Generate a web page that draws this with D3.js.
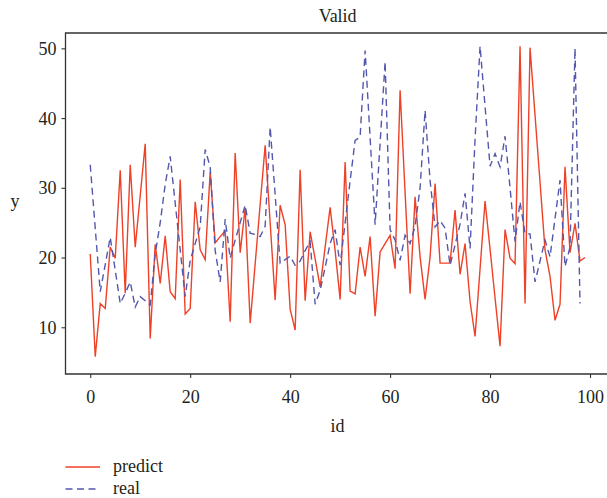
<!DOCTYPE html>
<html lang="en">
<head>
<meta charset="UTF-8">
<title>Valid</title>
<script src="https://d3js.org/d3.v7.min.js"></script>
<style>
    body { margin: 0; background: #fff; }
    text { font-family: "Liberation Serif", "DejaVu Serif", serif; fill: #231f20; }
</style>
</head>
<body>
<div id="chart"></div>
<script>
// values
const predict = [
    20.5, 5.8, 13.4, 12.7, 21.5, 19.9, 32.5, 14.9, 33.3, 21.5,
    28.9, 36.3, 8.4, 21.9, 16.3, 23.1, 15.1, 14.1, 31.2, 11.9,
    12.7, 28.0, 21.1, 19.7, 32.3, 22.1, 23.0, 23.8, 10.8, 35.0,
    20.7, 27.1, 10.6, 19.1, 27.6, 36.1, 25.0, 13.9, 27.5, 24.7,
    12.6, 9.6, 32.6, 13.8, 23.7, 19.8, 15.8, 21.5, 27.2, 21.0,
    14.0, 33.7, 15.2, 14.8, 21.5, 17.3, 23.0, 11.6, 20.8, 22.0,
    23.2, 18.4, 44.0, 29.3, 14.8, 28.7, 20.1, 14.0, 20.1, 30.6,
    19.2, 19.2, 19.2, 26.8, 17.6, 22.0, 13.7, 8.7, 18.4, 28.1,
    21.2, 14.2, 7.3, 24.0, 19.9, 19.1, 50.3, 13.4, 50.1, 40.4,
    30.8, 21.1, 17.3, 11.0, 13.3, 33.0, 20.7, 24.9, 19.5, 20.0
];
const real = [
    33.3, 24.2, 15.1, 19.0, 22.9, 18.2, 13.4, 14.9, 16.5, 12.9,
    14.4, 13.8, 13.2, 20.5, 25.0, 30.5, 34.5, 27.8, 21.1, 14.4,
    19.6, 22.0, 24.4, 35.5, 33.0, 21.0, 16.5, 25.5, 19.9, 22.5,
    25.0, 27.5, 23.5, 23.3, 23.0, 24.5, 38.7, 29.0, 19.2, 19.7,
    20.2, 18.9, 19.5, 21.0, 22.3, 13.3, 15.3, 18.6, 22.0, 24.0,
    18.9, 25.0, 31.0, 36.8, 37.3, 49.7, 37.2, 24.7, 36.4, 48.1,
    24.0, 22.5, 19.6, 23.2, 22.0, 24.5, 30.0, 41.1, 31.0, 24.4,
    25.3, 24.2, 18.9, 21.8, 24.8, 29.2, 21.3, 37.0, 50.3, 41.7,
    33.1, 34.9, 33.0, 37.4, 30.0, 22.3, 28.0, 23.4, 23.4, 16.5,
    19.5, 22.5, 20.1, 25.6, 31.1, 18.7, 21.5, 50.0, 13.4
];
const xTicks = [0, 20, 40, 60, 80, 100];
const yTicks = [10, 20, 30, 40, 50];
const seriesNames = ["predict", "real"];

const width = 607;
const height = 498;
const plotLeft = 65.5, plotRight = 609.75, plotTop = 33, plotBottom = 374;

const red = "#ee4127";
const blue = "#5458ad";

const svg = d3.select("#chart")
    .append("svg")
    .attr("width", width)
    .attr("height", height);

const x = d3.scaleLinear().domain([-4.95, 103.95]).range([plotLeft, plotRight]);
const y = d3.scaleLinear().domain([3.3, 52.2]).range([plotBottom, plotTop]);

// frame (right spine falls outside the picture)
svg.append("path")
    .attr("d", `M${plotRight},${plotTop}H${plotLeft}V${plotBottom}H${plotRight}`)
    .attr("fill", "none")
    .attr("stroke", "#333")
    .attr("stroke-width", 1.3);

const xAxis = svg.append("g")
    .attr("transform", `translate(0,${plotBottom})`)
    .call(d3.axisBottom(x).tickValues(xTicks).tickSize(4).tickSizeOuter(0));
xAxis.select(".domain").remove();
xAxis.selectAll("line").attr("stroke", "#333").attr("stroke-width", 1.1);
xAxis.selectAll("text")
    .attr("y", 28.5).attr("dy", null)
    .style("font-size", "18px")
    .attr("fill", "#231f20");

const yAxis = svg.append("g")
    .attr("transform", `translate(${plotLeft},0)`)
    .call(d3.axisLeft(y).tickValues(yTicks).tickSize(4).tickSizeOuter(0));
yAxis.select(".domain").remove();
yAxis.selectAll("line").attr("stroke", "#333").attr("stroke-width", 1.1);
yAxis.selectAll("text")
    .attr("x", -9).attr("dy", "0.34em")
    .style("font-size", "18px")
    .attr("fill", "#231f20");

// titles
svg.append("text").attr("x", (plotLeft + plotRight) / 2).attr("y", 22)
    .attr("text-anchor", "middle").style("font-size", "18px").text("Valid");
svg.append("text").attr("x", (plotLeft + plotRight) / 2).attr("y", 432)
    .attr("text-anchor", "middle").style("font-size", "18px").text("id");
svg.append("text").attr("x", 15).attr("y", 207)
    .attr("text-anchor", "middle").style("font-size", "18px").text("y");

const line = d3.line()
    .x((d, i) => x(i))
    .y(d => y(d));

svg.append("path")
    .datum(predict)
    .attr("d", line)
    .attr("fill", "none")
    .attr("stroke", red)
    .attr("stroke-width", 1.4);

svg.append("path")
    .datum(real)
    .attr("d", line)
    .attr("fill", "none")
    .attr("stroke", blue)
    .attr("stroke-width", 1.4)
    .attr("stroke-dasharray", "7,4.5");

// legend
const legend = svg.append("g");
seriesNames.forEach((name, i) => {
    const ly = 467 + i * 22;
    legend.append("line")
        .attr("x1", 65.5).attr("x2", 100)
        .attr("y1", ly).attr("y2", ly)
        .attr("stroke", i === 0 ? red : blue)
        .attr("stroke-width", 1.4)
        .attr("stroke-dasharray", i === 0 ? null : "7,4.5");
    legend.append("text")
        .attr("x", 113).attr("y", ly + 5)
        .style("font-size", "18px")
        .text(name);
});
</script>
</body>
</html>
